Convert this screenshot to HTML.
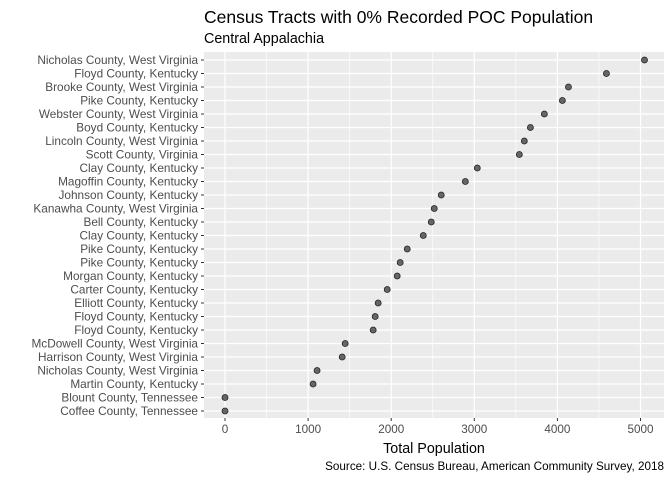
<!DOCTYPE html>
<html><head><meta charset="utf-8"><style>
html,body{margin:0;padding:0;background:#fff;}
svg{display:block;font-family:"Liberation Sans",sans-serif;}
</style></head><body>
<svg id="chart" width="672" height="480">
<text x="204" y="23" font-size="17.5" fill="#000">Census Tracts with 0% Recorded POC Population</text>
<text x="204" y="43" font-size="14.3" fill="#000">Central Appalachia</text>
<rect x="204" y="52" width="460" height="366" fill="#ebebeb"/>
<g id="grid"></g>
<g id="yticks"></g>
<g id="xticks"></g>
<g id="points"></g>
<text x="434" y="453" font-size="14.3" text-anchor="middle" fill="#000">Total Population</text>
<text x="664" y="470" font-size="11.7" text-anchor="end" fill="#000">Source: U.S. Census Bureau, American Community Survey, 2018</text>
</svg>
<script>
const categories = ["Nicholas County, West Virginia","Floyd County, Kentucky","Brooke County, West Virginia","Pike County, Kentucky","Webster County, West Virginia","Boyd County, Kentucky","Lincoln County, West Virginia","Scott County, Virginia","Clay County, Kentucky","Magoffin County, Kentucky","Johnson County, Kentucky","Kanawha County, West Virginia","Bell County, Kentucky","Clay County, Kentucky","Pike County, Kentucky","Pike County, Kentucky","Morgan County, Kentucky","Carter County, Kentucky","Elliott County, Kentucky","Floyd County, Kentucky","Floyd County, Kentucky","McDowell County, West Virginia","Harrison County, West Virginia","Nicholas County, West Virginia","Martin County, Kentucky","Blount County, Tennessee","Coffee County, Tennessee"];
const values = [5048,4590,4133,4060,3843,3675,3602,3542,3036,2892,2602,2518,2482,2386,2193,2108,2072,1952,1843,1807,1783,1446,1410,1108,1060,0,0];
const xTicks = [0,1000,2000,3000,4000,5000];
const xMinor = [500,1500,2500,3500,4500];
const NS="http://www.w3.org/2000/svg";
const x = v => 225 + v*0.0831;
const rowY = i => 60 + i*(351/(categories.length-1));
function mk(t,a,parent){const e=document.createElementNS(NS,t);for(const k in a)e.setAttribute(k,a[k]);document.getElementById(parent).appendChild(e);return e;}
xMinor.forEach(v=>{const l=mk('line',{x1:x(v),x2:x(v),y1:52,y2:418,stroke:'#fff','stroke-width':0.6},'grid');

});
xTicks.forEach(v=>{const l=mk('line',{x1:x(v),x2:x(v),y1:52,y2:418,stroke:'#fff','stroke-width':1.2},'grid');


const tk=mk('line',{x1:x(v),x2:x(v),y1:418,y2:421,stroke:'#333','stroke-width':1},'xticks');


const t=mk('text',{x:x(v),y:433,'font-size':11.7,'text-anchor':'middle',fill:'#4d4d4d'},'xticks');t.textContent=v;

});
categories.forEach((c,i)=>{const yy=rowY(i);
const l=mk('line',{x1:204,x2:664,y1:yy,y2:yy,stroke:'#fff','stroke-width':1.2},'grid');


const tk=mk('line',{x1:201,x2:204,y1:yy,y2:yy,stroke:'#333','stroke-width':1},'yticks');


const t=mk('text',{x:198,y:yy+4,'font-size':11.8,'text-anchor':'end',fill:'#4d4d4d'},'yticks');t.textContent=c;


const p=mk('circle',{cx:x(values[i]),cy:yy,r:3,fill:'#666',stroke:'#222','stroke-width':0.8},'points');

});
</script>
</body></html>
